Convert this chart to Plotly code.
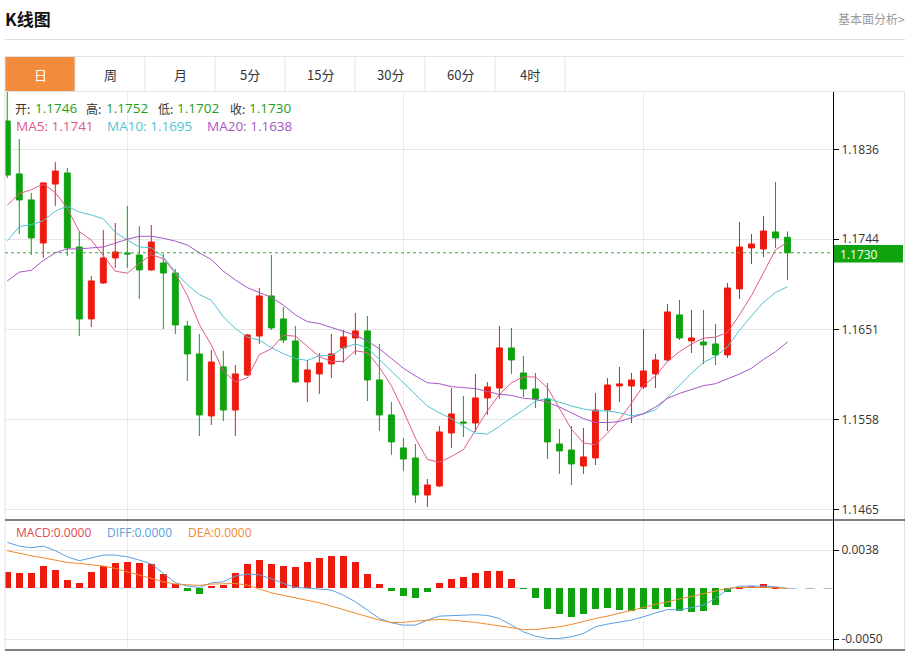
import plotly.graph_objects as go

W, H = 912, 654


def px(x):
    return x / W


def py(y):
    return 1 - y / H


# ---------------- data ----------------
open_ = [1.18659, 1.18113, 1.17845, 1.17401, 1.18009, 1.18123, 1.17360, 1.16618, 1.16989, 1.17247,
         1.17298, 1.17277, 1.17123, 1.17195, 1.17092, 1.16545, 1.16257, 1.15618, 1.16123, 1.15679,
         1.16040, 1.16442, 1.16855, 1.16618, 1.16391, 1.15968, 1.16051, 1.16154, 1.16319, 1.16422,
         1.16494, 1.15989, 1.15628, 1.15288, 1.15185, 1.14803, 1.14896, 1.15442, 1.15556, 1.15545,
         1.15803, 1.15906, 1.16319, 1.16061, 1.15896, 1.15793, 1.15329, 1.15267, 1.15102, 1.15185,
         1.15679, 1.15927, 1.15927, 1.15917, 1.16051, 1.16195, 1.16659, 1.16391, 1.16380, 1.16360,
         1.16247, 1.16927, 1.17350, 1.17339, 1.17515, 1.17460]
high = [1.18958, 1.18473, 1.17917, 1.18030, 1.18236, 1.18174, 1.17525, 1.17061, 1.17535, 1.17607,
        1.17783, 1.17576, 1.17587, 1.17288, 1.17133, 1.16597, 1.16463, 1.16298, 1.16288, 1.16143,
        1.16463, 1.16937, 1.17277, 1.16741, 1.16545, 1.16195, 1.16267, 1.16463, 1.16504, 1.16679,
        1.16648, 1.16360, 1.15762, 1.15391, 1.15329, 1.14968, 1.15514, 1.15906, 1.15824, 1.16051,
        1.15968, 1.16545, 1.16525, 1.16236, 1.16061, 1.15958, 1.15483, 1.15514, 1.15494, 1.15855,
        1.16009, 1.16123, 1.16061, 1.16514, 1.16257, 1.16772, 1.16813, 1.16710, 1.16710, 1.16566,
        1.16989, 1.17618, 1.17494, 1.17680, 1.18030, 1.17520]
low = [1.18071, 1.17494, 1.17277, 1.17247, 1.17783, 1.17267, 1.16442, 1.16535, 1.16978, 1.17143,
       1.17143, 1.16824, 1.17113, 1.16514, 1.16463, 1.15978, 1.15411, 1.15525, 1.15566, 1.15411,
       1.16030, 1.16360, 1.16504, 1.16370, 1.15958, 1.15762, 1.15844, 1.16009, 1.16164, 1.16247,
       1.15772, 1.15463, 1.15216, 1.15050, 1.14721, 1.14680, 1.14886, 1.15288, 1.15401, 1.15453,
       1.15628, 1.15793, 1.16051, 1.15813, 1.15700, 1.15174, 1.15020, 1.14906, 1.15020, 1.15112,
       1.15463, 1.15762, 1.15545, 1.15896, 1.15906, 1.16174, 1.16401, 1.16267, 1.16154, 1.16143,
       1.16216, 1.16824, 1.17185, 1.17257, 1.17350, 1.17020]
close = [1.18102, 1.17845, 1.17453, 1.18020, 1.18143, 1.17350, 1.16618, 1.17010, 1.17247, 1.17308,
         1.17288, 1.17123, 1.17411, 1.17092, 1.16556, 1.16257, 1.15628, 1.16174, 1.15679, 1.16051,
         1.16453, 1.16855, 1.16525, 1.16401, 1.15968, 1.16092, 1.16164, 1.16257, 1.16432, 1.16494,
         1.15989, 1.15628, 1.15350, 1.15174, 1.14803, 1.14906, 1.15453, 1.15638, 1.15545, 1.15803,
         1.15917, 1.16319, 1.16195, 1.15896, 1.15793, 1.15350, 1.15257, 1.15123, 1.15195, 1.15679,
         1.15937, 1.15948, 1.15989, 1.16082, 1.16195, 1.16690, 1.16422, 1.16422, 1.16350, 1.16247,
         1.16937, 1.17360, 1.17391, 1.17525, 1.17453, 1.17300]

ma5 = [1.1779, 1.1791, 1.1795, 1.1801, 1.1792, 1.1776, 1.1752, 1.1743, 1.1727, 1.1711,
       1.1709, 1.1719, 1.1728, 1.1724, 1.1709, 1.1686, 1.1656, 1.1635, 1.1608, 1.1597,
       1.1601, 1.1625, 1.1631, 1.1645, 1.1644, 1.1633, 1.1623, 1.1618, 1.1618, 1.1629,
       1.1627, 1.1612, 1.1593, 1.1567, 1.1539, 1.1517, 1.1514, 1.1520, 1.1527, 1.1547,
       1.1567, 1.1584, 1.1596, 1.1602, 1.1602, 1.1591, 1.1570, 1.1548, 1.1534, 1.1532,
       1.1544, 1.1558, 1.1575, 1.1593, 1.1603, 1.1618, 1.1628, 1.1636, 1.1642, 1.1643,
       1.1648, 1.1666, 1.1686, 1.1709, 1.1733, 1.1741]
ma10 = [1.1742, 1.1757, 1.1759, 1.1763, 1.1773, 1.1778, 1.1772, 1.1769, 1.1765, 1.1751,
        1.1743, 1.1736, 1.1735, 1.1726, 1.1710, 1.1697, 1.1687, 1.1681, 1.1664, 1.1652,
        1.1643, 1.1640, 1.1632, 1.1626, 1.1621, 1.1619, 1.1624, 1.1624, 1.1632, 1.1636,
        1.1632, 1.1620, 1.1608, 1.1595, 1.1583, 1.1572, 1.1565, 1.1559, 1.1551, 1.1544,
        1.1543, 1.1551, 1.1560, 1.1568, 1.1577, 1.1580, 1.1576, 1.1572, 1.1569, 1.1567,
        1.1567, 1.1565, 1.1562, 1.1564, 1.1568, 1.1581, 1.1593, 1.1606, 1.1617, 1.1623,
        1.1633, 1.1650, 1.1665, 1.1679, 1.1689, 1.1695]
ma20 = [1.1701, 1.1710, 1.1712, 1.1722, 1.1730, 1.1734, 1.1734, 1.1735, 1.1736, 1.1740,
        1.1744, 1.1747, 1.1747, 1.1745, 1.1742, 1.1738, 1.1730, 1.1723, 1.1711, 1.1702,
        1.1694, 1.1689, 1.1684, 1.1676, 1.1666, 1.1659, 1.1657, 1.1653, 1.1649, 1.1645,
        1.1639, 1.1631, 1.1621, 1.1611, 1.1603, 1.1596, 1.1595, 1.1592, 1.1591, 1.1590,
        1.1587, 1.1584, 1.1583, 1.1580, 1.1579, 1.1576, 1.1571, 1.1565, 1.1559, 1.1555,
        1.1555, 1.1556, 1.1560, 1.1564, 1.1571, 1.1580, 1.1585, 1.1589, 1.1593, 1.1595,
        1.1600, 1.1605, 1.1611, 1.1620, 1.1628, 1.1638]

macd_hist = [0.00161, 0.00148, 0.00154, 0.00221, 0.00181, 0.00079, 0.00055, 0.00158, 0.00221, 0.00253,
             0.00260, 0.00253, 0.00240, 0.00141, 0.00040, -0.00024, -0.00056, 0.00023, 0.00033, 0.00148,
             0.00237, 0.00280, 0.00240, 0.00224, 0.00208, 0.00260, 0.00297, 0.00319, 0.00319, 0.00257,
             0.00138, 0.00043, -0.00023, -0.00072, -0.00092, -0.00033, 0.00055, 0.00092, 0.00109, 0.00154,
             0.00171, 0.00174, 0.00092, -0.00005, -0.00099, -0.00205, -0.00250, -0.00280, -0.00257, -0.00205,
             -0.00198, -0.00215, -0.00221, -0.00208, -0.00201, -0.00181, -0.00225, -0.00234, -0.00221, -0.00165,
             -0.00040, 0.00016, 0.00023, 0.00043, 0.00010, 0.00000]
diff = [0.00455, 0.00419, 0.00402, 0.00419, 0.00373, 0.00313, 0.00274, 0.00303, 0.00330, 0.00330,
        0.00313, 0.00280, 0.00241, 0.00148, 0.00056, 0.00023, 0.00010, 0.00056, 0.00066, 0.00122,
        0.00142, 0.00135, 0.00096, 0.00049, 0.00010, 0.00003, -0.00007, -0.00016, -0.00066, -0.00132,
        -0.00214, -0.00297, -0.00340, -0.00363, -0.00363, -0.00313, -0.00274, -0.00267, -0.00264, -0.00260,
        -0.00267, -0.00297, -0.00363, -0.00429, -0.00471, -0.00495, -0.00495, -0.00478, -0.00445, -0.00379,
        -0.00353, -0.00336, -0.00313, -0.00280, -0.00247, -0.00208, -0.00214, -0.00188, -0.00165, -0.00099,
        -0.00010, 0.00023, 0.00026, 0.00023, 0.00016, 0.00000]
dea = [0.00373, 0.00346, 0.00323, 0.00303, 0.00280, 0.00257, 0.00247, 0.00237, 0.00221, 0.00198,
       0.00165, 0.00132, 0.00096, 0.00066, 0.00043, 0.00033, 0.00030, 0.00043, 0.00049, 0.00049,
       0.00033, -0.00007, -0.00043, -0.00069, -0.00092, -0.00115, -0.00142, -0.00175, -0.00208, -0.00241,
       -0.00280, -0.00313, -0.00336, -0.00336, -0.00323, -0.00313, -0.00307, -0.00313, -0.00323, -0.00336,
       -0.00353, -0.00369, -0.00386, -0.00406, -0.00406, -0.00396, -0.00379, -0.00356, -0.00323, -0.00297,
       -0.00274, -0.00247, -0.00221, -0.00188, -0.00158, -0.00132, -0.00099, -0.00076, -0.00049, -0.00026,
       0.00000, 0.00010, 0.00010, 0.00010, 0.00007, 0.00000]

price_ticks = [1.1465, 1.1558, 1.1651, 1.1744, 1.1836]
price_tick_text = ["1.1465", "1.1558", "1.1651", "1.1744", "1.1836"]
macd_ticks = [0.0038, -0.0050]
macd_tick_text = ["0.0038", "-0.0050"]
month_marks = [10, 33, 53]
tabs = ["日", "周", "月", "5分", "15分", "30分", "60分", "4时"]
last_price = 1.1730

# ---------------- styles ----------------
RED = "#EE1A0E"
GREEN = "#10A310"
C_MA5 = "#E05A8A"
C_MA10 = "#4FC4D3"
C_MA20 = "#A458C4"
C_DIFF = "#5A9FE0"
C_DEA = "#F08A30"
FONT = "Noto Sans CJK SC"
LATIN = "Open Sans"
GRID = "#E8ECF0"

idx = list(range(len(close)))
XR = [-0.19, 68.79]

fig = go.Figure()
fig.add_trace(go.Candlestick(
    x=idx, open=open_, high=high, low=low, close=close,
    increasing=dict(line=dict(color=RED, width=1), fillcolor=RED),
    decreasing=dict(line=dict(color=GREEN, width=1), fillcolor=GREEN),
    whiskerwidth=0, xaxis="x", yaxis="y", showlegend=False))
for vals, col in [(ma5, C_MA5), (ma10, C_MA10), (ma20, C_MA20)]:
    fig.add_trace(go.Scatter(x=idx, y=vals, mode="lines", line=dict(color=col, width=1),
                             xaxis="x", yaxis="y", showlegend=False, hoverinfo="skip"))

fig.add_trace(go.Bar(x=idx, y=macd_hist, width=0.62,
                     marker=dict(color=[RED if v >= 0 else GREEN for v in macd_hist], line=dict(width=0)),
                     xaxis="x2", yaxis="y2", showlegend=False))
for vals, col in [(diff, C_DIFF), (dea, C_DEA)]:
    fig.add_trace(go.Scatter(x=idx, y=vals, mode="lines", line=dict(color=col, width=1),
                             xaxis="x2", yaxis="y2", showlegend=False, hoverinfo="skip"))

axis_common = dict(showline=True, linecolor="#000000", linewidth=1, ticks="outside", ticklen=5,
                   tickcolor="#000000", tickfont=dict(size=12, color="#333333", family=LATIN),
                   side="right", showgrid=True, gridcolor="#E6E6E6", zeroline=False,
                   automargin=False, fixedrange=True)

fig.update_layout(
    width=W, height=H, margin=dict(l=0, r=0, t=0, b=0),
    paper_bgcolor="white", plot_bgcolor="white",
    font=dict(family=FONT, size=12, color="#333333"),
    bargap=0, boxgap=0.3,
    xaxis=dict(domain=[px(5), px(833)], range=XR, anchor="y", tickvals=month_marks,
               showticklabels=False, showgrid=True, gridcolor=GRID, zeroline=False,
               rangeslider=dict(visible=False), fixedrange=True, automargin=False),
    xaxis2=dict(domain=[px(5), px(833)], range=XR, anchor="y2", tickvals=month_marks,
                showticklabels=False, showgrid=True, gridcolor=GRID, zeroline=False,
                fixedrange=True, automargin=False),
    yaxis=dict(domain=[py(520), py(91)], range=[1.14545, 1.18968], anchor="x",
               tickvals=price_ticks, ticktext=price_tick_text, **axis_common),
    yaxis2=dict(domain=[py(650), py(520)], range=[-0.006088, 0.006767], anchor="x2",
                tickvals=macd_ticks, ticktext=macd_tick_text, **axis_common),
)

shapes = []


def pline(x0, y0, x1, y1, color, width=1, dash="solid"):
    shapes.append(dict(type="line", xref="paper", yref="paper", x0=px(x0), y0=py(y0),
                       x1=px(x1), y1=py(y1), line=dict(color=color, width=width, dash=dash)))


# header divider
pline(5, 39.5, 905, 39.5, "#DCDCDC")
# tabs
shapes.append(dict(type="rect", xref="paper", yref="paper", x0=px(5), x1=px(75), y0=py(91), y1=py(56.5),
                   fillcolor="#F28B3C", line=dict(width=0), layer="below"))
pline(5, 56.5, 905, 56.5, "#E3E3E3")
for i in range(len(tabs) + 1):
    xx = 5 + 70 * i
    pline(xx, 56.5, xx, 91, "#E3E3E3")
# chart frame
pline(5, 91.5, 905, 91.5, "#E3E3E3")
pline(5, 91.5, 5, 650, "#E3E3E3")
pline(904.5, 91.5, 904.5, 650, "#E3E3E3")
pline(5, 520, 905, 520, "#000000")
pline(5, 650, 905, 650, "#000000")
# last price dotted line
shapes.append(dict(type="line", xref="x", yref="y", x0=XR[0], x1=XR[1], y0=last_price, y1=last_price,
                   line=dict(color="#3BAA3B", width=1, dash="dot")))
# MACD zero dashed tail
shapes.append(dict(type="line", xref="x2", yref="y2", x0=idx[-1], x1=XR[1], y0=0, y1=0,
                   line=dict(color="#A8B8CC", width=1, dash="dash")))
# price label box
shapes.append(dict(type="rect", xref="paper", yref="paper", x0=px(834), x1=px(903), y0=py(262.5), y1=py(245),
                   fillcolor="#0FA40F", line=dict(width=0)))
fig.update_layout(shapes=shapes)

ann = []


def text(x, y, s, color="#333333", size=13, anchor="left", bold=False, family=FONT):
    if bold:
        s = "<b>" + s + "</b>"
    ann.append(dict(xref="paper", yref="paper", x=px(x), y=py(y), text=s, showarrow=False,
                    xanchor=anchor, yanchor="middle", font=dict(color=color, size=size, family=family),
                    borderpad=0))


text(4, 18, "K线图", "#111111", 17, bold=True)
text(906, 18, "基本面分析>", "#999999", 12, anchor="right")
for i, t in enumerate(tabs):
    text(40 + 70 * i, 74, t, "#FFFFFF" if i == 0 else "#333333", 13, anchor="center")

VAL_GREEN = "#1E9E1E"
ohlc_items = [("开:", 14, "%.4f" % open_[-1], 34), ("高:", 85, "%.4f" % high[-1], 105),
              ("低:", 157, "%.4f" % low[-1], 176), ("收:", 229, "%.4f" % close[-1], 248)]
for lab, lx, val, vx in ohlc_items:
    text(lx, 108, lab, "#333333", 12)
    text(vx, 108, val, VAL_GREEN, 13.5, family=LATIN)
text(15, 126, "MA5: %.4f" % ma5[-1], C_MA5, 13.5, family=LATIN)
text(106, 126, "MA10: %.4f" % ma10[-1], C_MA10, 13.5, family=LATIN)
text(206, 126, "MA20: %.4f" % ma20[-1], C_MA20, 13.5, family=LATIN)

text(15, 532, "MACD:0.0000", "#E04A4F", 12, family=LATIN)
text(106, 532, "DIFF:0.0000", C_DIFF, 12, family=LATIN)
text(187, 532, "DEA:0.0000", C_DEA, 12, family=LATIN)

text(839, 254, "%.4f" % last_price, "#FFFFFF", 12, family=LATIN)
fig.update_layout(annotations=ann)

fig.write_html("out.html", config={"displayModeBar": False},
               post_script="document.body.style.margin='0px';document.body.style.padding='0px';")
